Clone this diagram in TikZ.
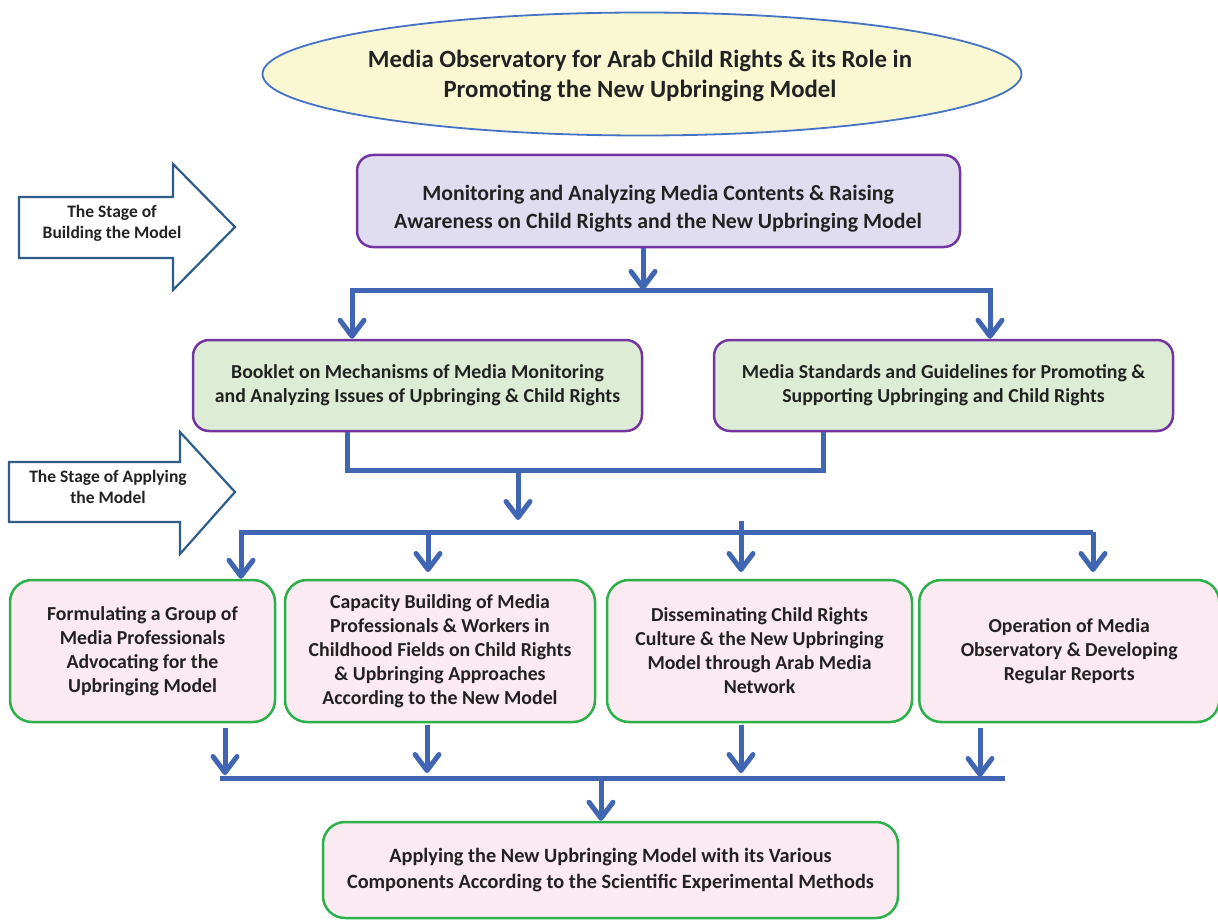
\documentclass[tikz,border=0pt]{standalone}
\usepackage{fontspec}
\setmainfont{Carlito}
\usetikzlibrary{arrows.meta,shapes.geometric}
\definecolor{conn}{HTML}{3F65B3}
\definecolor{ellfill}{HTML}{FAF8D2}
\definecolor{ellline}{HTML}{4472C4}
\definecolor{purp}{HTML}{7535A0}
\definecolor{lav}{HTML}{E0DDF0}
\definecolor{mint}{HTML}{DDEDD5}
\definecolor{pinkf}{HTML}{FBEAF2}
\definecolor{grn}{HTML}{2BB04A}
\definecolor{stagec}{HTML}{2E5D8A}
\definecolor{txt}{HTML}{222222}
\tikzset{
  conline/.style={draw=conn,line width=5pt,line join=miter},
  conarrow/.style={conline,-{Straight Barb[length=16pt,width=24pt,line width=5pt,round]}},
  bothtips/.style={conline,{Straight Barb[length=16pt,width=24pt,line width=5pt,round]}-{Straight Barb[length=16pt,width=24pt,line width=5pt,round]}},
  pbox/.style={rectangle,rounded corners=16pt,draw=purp,line width=2.5pt,align=center,text=txt,font=\bfseries\fontsize{19.8}{24}\selectfont,inner sep=0pt},
  gbox/.style={rectangle,rounded corners=22pt,draw=grn,line width=2.5pt,fill=pinkf,align=center,text=txt,font=\bfseries\fontsize{19.8}{24}\selectfont,inner sep=0pt},
  boxtext/.style={align=center,text=txt,inner sep=0pt},
  stageshape/.style={draw=stagec,line width=2.2pt,fill=white,line join=miter},
  stagetext/.style={align=center,text=txt,font=\bfseries\fontsize{17.5}{21}\selectfont,inner sep=0pt}
}
\begin{document}
\begin{tikzpicture}[x=1pt,y=-1pt]
\useasboundingbox[fill=white] (0,0) rectangle (1218,920);
% title
\node[ellipse,draw=ellline,line width=1.8pt,fill=ellfill,minimum width=759pt,minimum height=123pt,inner sep=0pt] (title) at (642,74) {};
\node[boxtext,font=\bfseries\fontsize{24.8}{30}\selectfont] (titlet) at (640,76) {Media Observatory for Arab Child Rights \& its Role in\\Promoting the New Upbringing Model};
% stage arrows
\draw[stageshape] (19,197) -- (173,197) -- (173,164) -- (235,227) -- (173,290) -- (173,258) -- (19,258) -- cycle;
\node[stagetext] (s1) at (112,223) {The Stage of\\Building the Model};
\draw[stageshape] (9,462) -- (180,462) -- (180,432) -- (235,492) -- (180,554) -- (180,522) -- (9,522) -- cycle;
\node[stagetext] (s2) at (108,487) {The Stage of Applying\\the Model};
% boxes
\node[pbox,fill=lav,minimum width=603pt,minimum height=92pt] (b1) at (658.5,201) {};
\node[boxtext,font=\bfseries\fontsize{21.8}{28}\selectfont] (b1t) at (658,209) {Monitoring and Analyzing Media Contents \& Raising\\Awareness on Child Rights and the New Upbringing Model};
\node[pbox,fill=mint,minimum width=449pt,minimum height=91pt] (b2) at (417.5,385.5) {Booklet on Mechanisms of Media Monitoring\\and Analyzing Issues of Upbringing \& Child Rights};
\node[pbox,fill=mint,minimum width=459pt,minimum height=91pt] (b3) at (943.5,385.5) {Media Standards and Guidelines for Promoting \&\\Supporting Upbringing and Child Rights};
\node[gbox,minimum width=265pt,minimum height=142pt] (b4) at (142.5,651) {Formulating a Group of\\Media Professionals\\Advocating for the\\Upbringing Model};
\node[gbox,minimum width=310pt,minimum height=142pt] (b5) at (440,651) {Capacity Building of Media\\Professionals \& Workers in\\Childhood Fields on Child Rights\\\& Upbringing Approaches\\According to the New Model};
\node[gbox,minimum width=305pt,minimum height=142pt] (b6) at (759.5,651) {Disseminating Child Rights\\Culture \& the New Upbringing\\Model through Arab Media\\Network};
\node[gbox,minimum width=300pt,minimum height=142pt,anchor=west] (b7) at (918,651) {Operation of Media\\Observatory \& Developing\\Regular Reports};
\node[gbox,minimum width=575pt,minimum height=96pt,font=\bfseries\fontsize{20.3}{26}\selectfont] (b8) at (610.5,870) {Applying the New Upbringing Model with its Various\\Components According to the Scientific Experimental Methods};
% connectors: level 1
\coordinate (j1) at (643,290);
\coordinate (h1l) at (352,290);
\coordinate (h1r) at (990,290);
\draw[conarrow] (b1.south -| j1) -- (j1);
\draw[bothtips] (h1l |- b2.north) -- (h1l) -- (h1r) -- (h1r |- b3.north);
% level 2 merge
\coordinate (m2l) at (347,470);
\coordinate (m2r) at (823,470);
\coordinate (m2c) at (518,470);
\coordinate (m2e) at (518,520);
\draw[conline] (b2.south -| m2l) -- (m2l) -- (m2r) -- (b3.south -| m2r);
\draw[conarrow] (m2c) -- (m2e);
% level 3 split
\coordinate (h3l) at (241,532);
\coordinate (h3r) at (1093,532);
\coordinate (t5) at (428,532);
\coordinate (e5) at (428,572);
\coordinate (t6) at (741,521);
\coordinate (e6) at (741,572);
\coordinate (e7) at (1093,572);
\draw[conline,-{Straight Barb[length=16pt,width=24pt,line width=5pt,round]}] (h3r) -- (h3l) -- (h3l |- b4.north);
\draw[conarrow] (h3r) -- (e7);
\draw[conarrow] (t5) -- (e5);
\draw[conarrow] (t6) -- (e6);
% level 4 merge
\coordinate (a4s) at (225,728); \coordinate (a4e) at (225,775);
\coordinate (a5s) at (427,725); \coordinate (a5e) at (427,773);
\coordinate (a6s) at (741,725); \coordinate (a6e) at (741,773);
\coordinate (a7s) at (980,728); \coordinate (a7e) at (980,777);
\coordinate (h4l) at (220,778); \coordinate (h4r) at (1005,778);
\coordinate (f1) at (601,778);
\draw[conarrow] (a4s) -- (a4e);
\draw[conarrow] (a5s) -- (a5e);
\draw[conarrow] (a6s) -- (a6e);
\draw[conarrow] (a7s) -- (a7e);
\draw[conline] (h4l) -- (h4r);
\draw[conarrow] (f1) -- (f1 |- b8.north);
\end{tikzpicture}
\end{document}
